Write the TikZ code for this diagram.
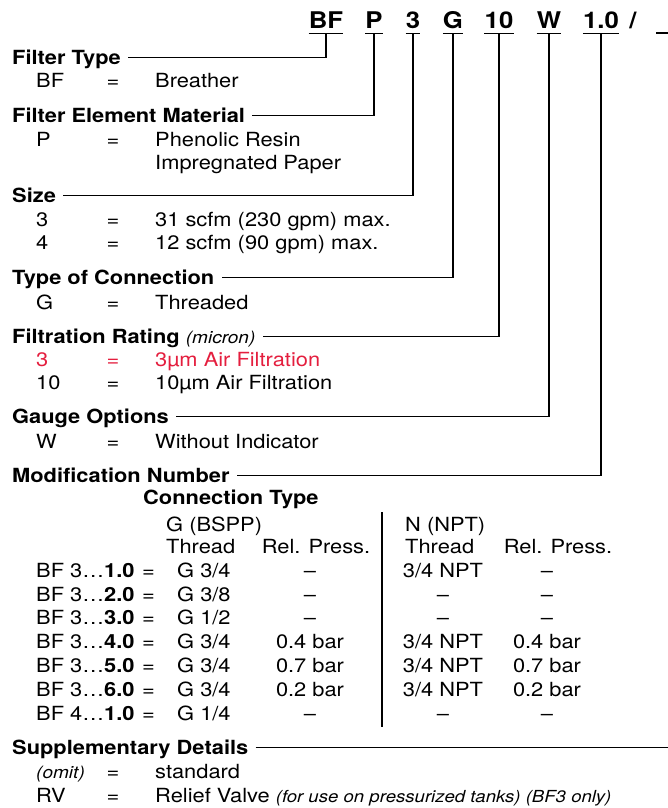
\documentclass[tikz,border=0pt]{standalone}
\usepackage{fontspec}
\setmainfont{TeX Gyre Heros}[FakeStretch=1.12]
\definecolor{fred}{RGB}{228,30,62}
\newcommand\bodyfs{\fontsize{19.5}{24}\selectfont}
\newcommand\smallfs{\fontsize{17}{20}\selectfont}
\newcommand\smallerfs{\fontsize{16.6}{20}\selectfont}
\newcommand\codefs{\fontsize{23}{28}\selectfont}
\newcommand\opt[5]{%
  \node[tx,#5] (#1c) at (36,#2) {#3};
  \node[eq,#5] (#1e) at (113,#2) {=};
  \node[tx,#5] (#1d) at (155,#2) {#4};}
\newcommand\trow[7]{%
  \node[tx] (#1l) at (36,#2) {#3};
  \node[eq] (#1e) at (148.5,#2) {=};
  \node[tx] (#1a) at (177,#2) {#4};
  \node[tc] (#1b) at (310,#2) {#5};
  \node[tc] (#1c) at (443,#2) {#6};
  \node[tc] (#1d) at (547,#2) {#7};}
\begin{document}
\begin{tikzpicture}[x=1pt,y=-1pt,
  ln/.style={line width=1.35pt},
  hd/.style={anchor=base west,inner sep=0pt,text height=13pt,text depth=0pt,font=\bodyfs\bfseries},
  tx/.style={anchor=base west,inner sep=0pt,font=\bodyfs},
  eq/.style={anchor=base,inner sep=0pt,font=\bodyfs},
  tc/.style={anchor=base,inner sep=0pt,font=\bodyfs},
  cd/.style={anchor=base,inner sep=0pt,text depth=0pt,font=\codefs\bfseries}]
\useasboundingbox (0,0) rectangle (668,808);
% header code
\node[cd] (bf) at (326,29) {BF};
\node[cd] (p) at (374,29) {P};
\node[cd] (s3) at (413,29) {3};
\node[cd] (g) at (453,29) {G};
\node[cd] (r10) at (499,29) {10};
\node[cd] (w) at (549,29) {W};
\node[cd] (m10) at (601,29) {1.0};
\node[cd] (sl) at (633,29) {/};
\coordinate (blank) at (656,33);
\coordinate (edge) at (672,33);
\foreach \n in {bf,p,s3,g,r10,w,m10}
  \draw[ln] ([yshift=-4pt]\n.south west) -- ([yshift=-4pt]\n.south east);
\draw[ln] (blank) -- (edge);
% headings
\node[hd] (ft) at (12,64) {Filter Type};
\node[hd] (fem) at (12,122) {Filter Element Material};
\node[hd] (sz) at (12,202) {Size};
\node[hd] (toc) at (12,284) {Type of Connection};
\node[hd] (fr) at (12,343) {Filtration Rating {\mdseries\itshape\smallfs (micron)}};
\node[hd] (go) at (12,423) {Gauge Options};
\node[hd] (mn) at (12,482) {Modification Number};
\node[hd] (sd) at (12,754) {Supplementary Details};
% connectors
\draw[ln] ([yshift=-4pt]bf.south) |- ([xshift=7pt]ft.east);
\draw[ln] ([yshift=-4pt]p.south) |- ([xshift=7pt]fem.east);
\draw[ln] ([yshift=-4pt]s3.south) |- ([xshift=7pt]sz.east);
\draw[ln] ([yshift=-4pt]g.south) |- ([xshift=7pt]toc.east);
\draw[ln] ([yshift=-4pt]r10.south) |- ([xshift=7pt]fr.east);
\draw[ln] ([yshift=-4pt]w.south) |- ([xshift=7pt]go.east);
\draw[ln] ([yshift=-4pt]m10.south) |- ([xshift=7pt]mn.east);
\draw[ln] ([xshift=7pt]sd.east) -- (sd.east -| edge);
% options
\opt{bfo}{88}{BF}{Breather}{}
\opt{po}{146}{P}{Phenolic Resin}{}
\node[tx] (pd2) at (155,169) {Impregnated Paper};
\opt{sa}{226}{3}{31 scfm (230 gpm) max.}{}
\opt{sb}{249}{4}{12 scfm (90 gpm) max.}{}
\opt{ga}{309}{G}{Threaded}{}
\opt{fa}{366}{3}{3µm Air Filtration}{text=fred}
\opt{fb}{389}{10}{10µm Air Filtration}{}
\opt{wa}{448}{W}{Without Indicator}{}
% table
\node[tx,font=\bodyfs\bfseries] (ct) at (143,504) {Connection Type};
\node[tx] (gb) at (166,531) {G (BSPP)};
\node[tx] (nn) at (405,531) {N (NPT)};
\node[tx] (th1) at (166,553) {Thread};
\node[tc] (rp1) at (316,553) {Rel. Press.};
\node[tx] (th2) at (405,553) {Thread};
\node[tc] (rp2) at (558,553) {Rel. Press.};
\trow{ra}{577}{BF 3…\textbf{1.0}}{G 3/4}{–}{3/4 NPT}{–}
\trow{rb}{601}{BF 3…\textbf{2.0}}{G 3/8}{–}{–}{–}
\trow{rc}{624}{BF 3…\textbf{3.0}}{G 1/2}{–}{–}{–}
\trow{rd}{648}{BF 3…\textbf{4.0}}{G 3/4}{0.4 bar}{3/4 NPT}{0.4 bar}
\trow{re}{672}{BF 3…\textbf{5.0}}{G 3/4}{0.7 bar}{3/4 NPT}{0.7 bar}
\trow{rf}{696}{BF 3…\textbf{6.0}}{G 3/4}{0.2 bar}{3/4 NPT}{0.2 bar}
\trow{rg}{720}{BF 4…\textbf{1.0}}{G 1/4}{–}{–}{–}
\coordinate (dvt) at (382,512);
\coordinate (dvb) at (382,727);
\draw[ln] (dvt) -- (dvb);
% supplementary
\opt{oa}{778}{{\itshape\smallfs (omit)}}{standard}{}
\opt{ob}{802}{RV}{Relief Valve {\itshape\smallerfs (for use on pressurized tanks) (BF3 only)}}{}
\end{tikzpicture}
\end{document}
